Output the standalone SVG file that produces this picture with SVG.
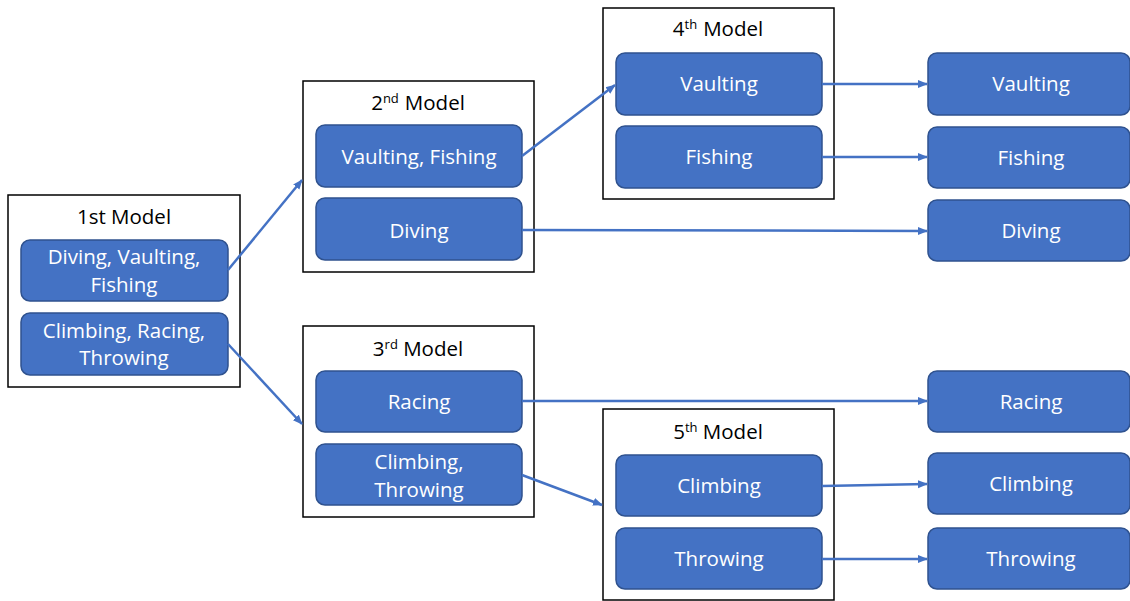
<svg xmlns="http://www.w3.org/2000/svg" width="1130" height="601" viewBox="0 0 1130 601">
<defs>
<marker id="ah" viewBox="0 0 10 10" refX="9" refY="5" markerWidth="4" markerHeight="4" orient="auto" markerUnits="strokeWidth"><path d="M0,1 L10,5 L0,9 z" fill="#4472C4"/></marker>
<style>
.frame{fill:#fff;stroke:#000;stroke-width:1.5}
.box{fill:#4472C4;stroke:#2F528F;stroke-width:1.5}
.t{font-family:"Open Sans","Liberation Sans",sans-serif;font-size:20.5px;fill:#fff;text-anchor:middle}
.h{font-family:"Open Sans","Liberation Sans",sans-serif;font-size:20.5px;fill:#000;text-anchor:middle}
.sup{font-size:13px}
.c{fill:none;stroke:#4472C4;stroke-width:2.5;marker-end:url(#ah)}
</style>
</defs>
<rect width="1130" height="601" fill="#fff"/>
<g id="m1">
<rect class="frame" x="8" y="195" width="232" height="192"/>
<text class="h" x="124" y="224">1st Model</text>
<rect class="box" x="21" y="240" width="207" height="61" rx="9"/>
<text class="t" x="124" y="264">Diving, Vaulting,</text>
<text class="t" x="124" y="292">Fishing</text>
<rect class="box" x="21" y="313" width="207" height="62" rx="9"/>
<text class="t" x="124" y="338">Climbing, Racing,</text>
<text class="t" x="124" y="365">Throwing</text>
</g>
<g id="m2">
<rect class="frame" x="303" y="81" width="231" height="191"/>
<text class="h" x="418" y="110">2<tspan class="sup" dy="-7">nd</tspan><tspan dy="7" dx="6">Model</tspan></text>
<rect class="box" x="316" y="125" width="206" height="62" rx="9"/>
<text class="t" x="419" y="164">Vaulting, Fishing</text>
<rect class="box" x="316" y="198" width="206" height="62" rx="9"/>
<text class="t" x="419" y="238">Diving</text>
</g>
<g id="m4">
<rect class="frame" x="603" y="8" width="231" height="191"/>
<text class="h" x="718" y="36">4<tspan class="sup" dy="-7">th</tspan><tspan dy="7" dx="6">Model</tspan></text>
<rect class="box" x="616" y="53" width="206" height="62" rx="9"/>
<text class="t" x="719" y="91">Vaulting</text>
<rect class="box" x="616" y="126" width="206" height="62" rx="9"/>
<text class="t" x="719" y="164">Fishing</text>
</g>
<g id="m3">
<rect class="frame" x="303" y="326" width="231" height="191"/>
<text class="h" x="418" y="356">3<tspan class="sup" dy="-7">rd</tspan><tspan dy="7"> Model</tspan></text>
<rect class="box" x="316" y="371" width="206" height="61" rx="9"/>
<text class="t" x="419" y="409">Racing</text>
<rect class="box" x="316" y="444" width="206" height="61" rx="9"/>
<text class="t" x="419" y="469">Climbing,</text>
<text class="t" x="419" y="497">Throwing</text>
</g>
<g id="m5">
<rect class="frame" x="603" y="409" width="231" height="191"/>
<text class="h" x="718" y="439">5<tspan class="sup" dy="-7">th</tspan><tspan dy="7"> Model</tspan></text>
<rect class="box" x="616" y="455" width="206" height="61" rx="9"/>
<text class="t" x="719" y="493">Climbing</text>
<rect class="box" x="616" y="528" width="206" height="61" rx="9"/>
<text class="t" x="719" y="566">Throwing</text>
</g>
<g id="out-vaulting"><rect class="box" x="928" y="53" width="202" height="62" rx="9"/><text class="t" x="1031" y="91">Vaulting</text></g>
<g id="out-fishing"><rect class="box" x="928" y="127" width="202" height="61" rx="9"/><text class="t" x="1031" y="165">Fishing</text></g>
<g id="out-diving"><rect class="box" x="928" y="200" width="202" height="61" rx="9"/><text class="t" x="1031" y="238">Diving</text></g>
<g id="out-racing"><rect class="box" x="928" y="371" width="202" height="61" rx="9"/><text class="t" x="1031" y="409">Racing</text></g>
<g id="out-climbing"><rect class="box" x="928" y="453" width="202" height="61" rx="9"/><text class="t" x="1031" y="491">Climbing</text></g>
<g id="out-throwing"><rect class="box" x="928" y="528" width="202" height="61" rx="9"/><text class="t" x="1031" y="566">Throwing</text></g>
<g id="connectors">
<path class="c" d="M228,270 L302,180"/>
<path class="c" d="M228,344 L302,424"/>
<path class="c" d="M522,156 L615,85"/>
<path class="c" d="M822,84 L927,84"/>
<path class="c" d="M822,157 L927,157"/>
<path class="c" d="M522,230 L927,231"/>
<path class="c" d="M522,401 L927,401"/>
<path class="c" d="M522,475 L602,505"/>
<path class="c" d="M822,486 L927,484"/>
<path class="c" d="M822,559 L927,559"/>
</g>
</svg>
